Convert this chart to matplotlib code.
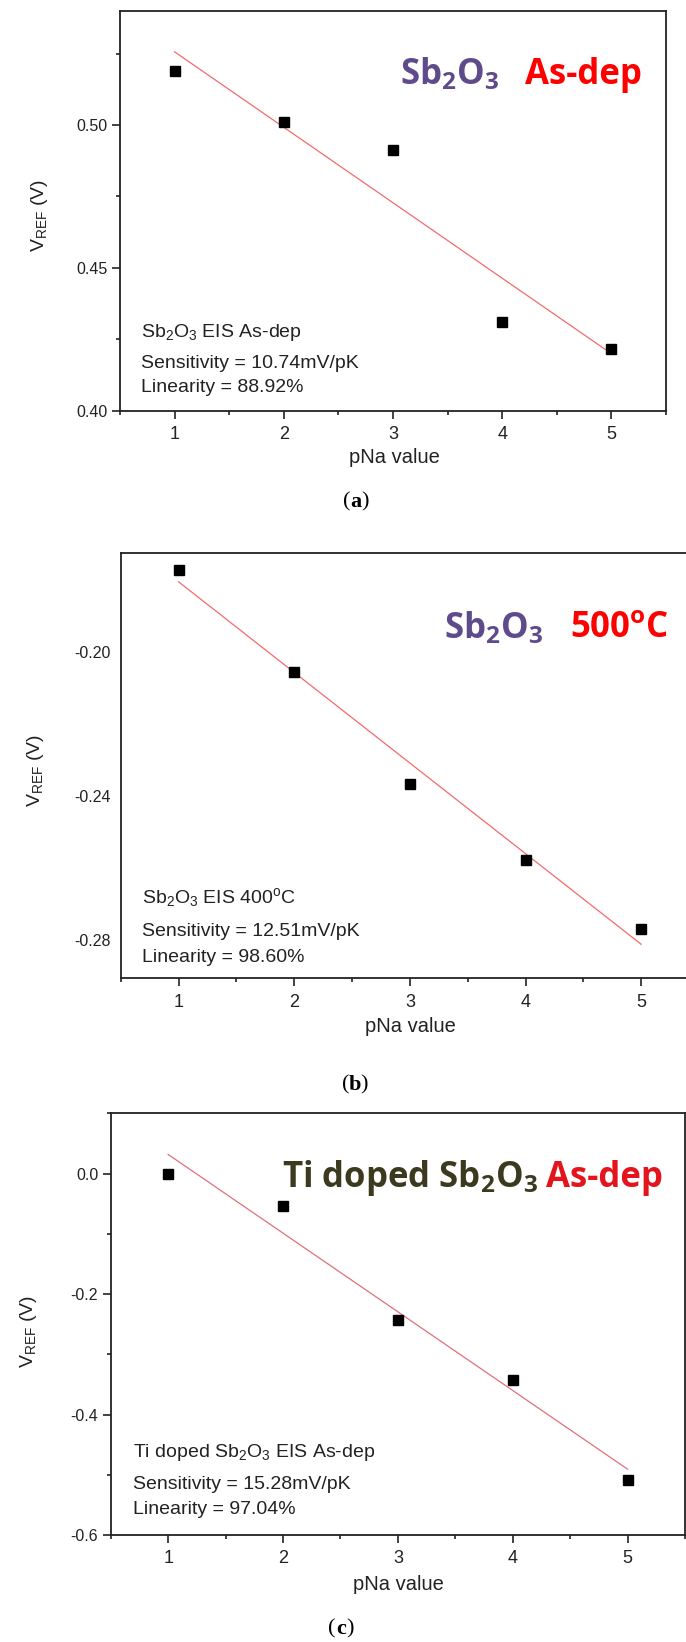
import numpy as np
import matplotlib
matplotlib.use("Agg")
import matplotlib.pyplot as plt
from matplotlib.ticker import MultipleLocator, FormatStrFormatter

plt.rcParams['font.family'] = ['Liberation Sans', 'DejaVu Sans']
plt.rcParams['mathtext.fontset'] = 'custom'
plt.rcParams['mathtext.rm'] = 'Liberation Sans'
plt.rcParams['mathtext.it'] = 'Liberation Sans:italic'
plt.rcParams['mathtext.bf'] = 'Open Sans:bold'
plt.rcParams['axes.unicode_minus'] = False

# data
pna = [1, 2, 3, 4, 5]
vref_asdep = [0.5188, 0.5009, 0.4914, 0.4312, 0.4216]
vref_500c = [-0.1773, -0.2056, -0.2368, -0.2578, -0.2769]
vref_ti = [0.0, -0.0533, -0.2431, -0.3428, -0.5083]

notes_a = ['Sb$_2$O$_3$ EIS As-dep', 'Sensitivity = 10.74mV/pK', 'Linearity = 88.92%']
notes_b = ['Sb$_2$O$_3$ EIS 400$^{\\rm o}$C', 'Sensitivity = 12.51mV/pK', 'Linearity = 98.60%']
notes_c = ['Ti doped Sb$_2$O$_3$ EIS As-dep', 'Sensitivity = 15.28mV/pK', 'Linearity = 97.04%']

W, H = 686, 1642
fig = plt.figure(figsize=(W / 100, H / 100), dpi=100)


def fx(x):
    return x / W


def fy(y):
    return 1 - y / H


def panel(l, t, r, b):
    return fig.add_axes([l / W, 1 - b / H, (r - l) / W, (b - t) / H])


def draw(ax, y, ylim, major, minor, fmt, line_color):
    ax.plot(pna, y, 's', color='black', ms=6.5, zorder=3)
    k, c = np.polyfit(pna, y, 1)
    xs = np.array([pna[0], pna[-1]])
    ax.plot(xs, k * xs + c, color=line_color, lw=0.9)
    ax.set_xlim(0.5, 5.5)
    ax.set_ylim(*ylim)
    ax.xaxis.set_major_locator(MultipleLocator(1))
    ax.xaxis.set_minor_locator(MultipleLocator(0.5))
    ax.yaxis.set_major_locator(MultipleLocator(major))
    if minor:
        ax.yaxis.set_minor_locator(MultipleLocator(minor))
    ax.yaxis.set_major_formatter(FormatStrFormatter(fmt))
    ax.tick_params(which='major', direction='out', length=6, width=1.2,
                   labelsize=11.5, colors='#222222', pad=3)
    ax.tick_params(which='minor', direction='out', length=3, width=1.2, colors='#222222')
    ax.tick_params(axis='x', which='major', labelsize=13, pad=5)
    for s in ax.spines.values():
        s.set_linewidth(1.3)
        s.set_color('#222222')


def notes(lines, x, ys):
    for txt, yy in zip(lines, ys):
        fig.text(fx(x), fy(yy), txt, fontsize=14, color='#222222', va='baseline')


def caption(letter, cx, cy):
    fig.text(fx(cx - 5.5), fy(cy), '(', family='Liberation Serif', fontsize=16, ha='right', va='center')
    fig.text(fx(cx), fy(cy), letter, family='Liberation Serif', fontsize=16,
             weight='bold', ha='center', va='center')
    fig.text(fx(cx + 5.5), fy(cy), ')', family='Liberation Serif', fontsize=16, ha='left', va='center')


def ylabel(x, y):
    fig.text(fx(x), fy(y), 'V$_{\\rm REF}$ (V)', fontsize=14, color='#222222',
             rotation=90, ha='center', va='center')


def xlabel(x, y):
    fig.text(fx(x), fy(y), 'pNa value', fontsize=14.5, color='#222222', ha='center', va='center')


title_kw = dict(family=['Open Sans', 'DejaVu Sans'], weight='bold', fontsize=25, va='baseline')

# (a)
ax_a = panel(120, 10.7, 666, 410.7)
draw(ax_a, vref_asdep, (0.40, 0.540), 0.05, 0.025, '%.2f', '#F46A6A')
fig.text(fx(400), fy(84), 'Sb$_\\mathbf{2}$O$_\\mathbf{3}$', color='#5F4B8B', ha='left', **title_kw)
fig.text(fx(642), fy(84), 'As-dep', color='#FF0000', ha='right', **title_kw)
notes(notes_a, 141, [337, 368.3, 391.7])
ylabel(40, 215)
xlabel(394, 457)
caption('a', 355.5, 501.7)

# (b) -- right side runs past the page edge, as in the source
ax_b = panel(120.7, 553.3, 699, 978.3)
draw(ax_b, vref_500c, (-0.2906, -0.1727), 0.04, None, '%.2f', '#F46A6A')
ax_b.tick_params(axis='y', which='both', length=0, pad=7)
fig.text(fx(444), fy(638), 'Sb$_\\mathbf{2}$O$_\\mathbf{3}$', color='#5F4B8B', ha='left', **title_kw)
fig.text(fx(669), fy(638), '500$^\\mathbf{o}$C', color='#FF0000', ha='right', **title_kw)
notes(notes_b, 141.7, [903.3, 936, 961.7])
ylabel(36, 770)
xlabel(410, 1027)
caption('b', 355, 1085)

# (c)
ax_c = panel(110.7, 1113.3, 685, 1535)
draw(ax_c, vref_ti, (-0.6, 0.1), 0.2, 0.1, '%.1f', '#E0707A')
fig.text(fx(538), fy(1186.5), 'Ti doped Sb$_\\mathbf{2}$O$_\\mathbf{3}$', color='#3C3A1E', ha='right', **title_kw)
fig.text(fx(663), fy(1186.5), 'As-dep', color='#E3141B', ha='right', **title_kw)
notes(notes_c, 132.7, [1456.7, 1489.3, 1514.3])
ylabel(28.5, 1331)
xlabel(398, 1584)
caption('c', 341, 1629)

fig.savefig('out.png', dpi=100)
